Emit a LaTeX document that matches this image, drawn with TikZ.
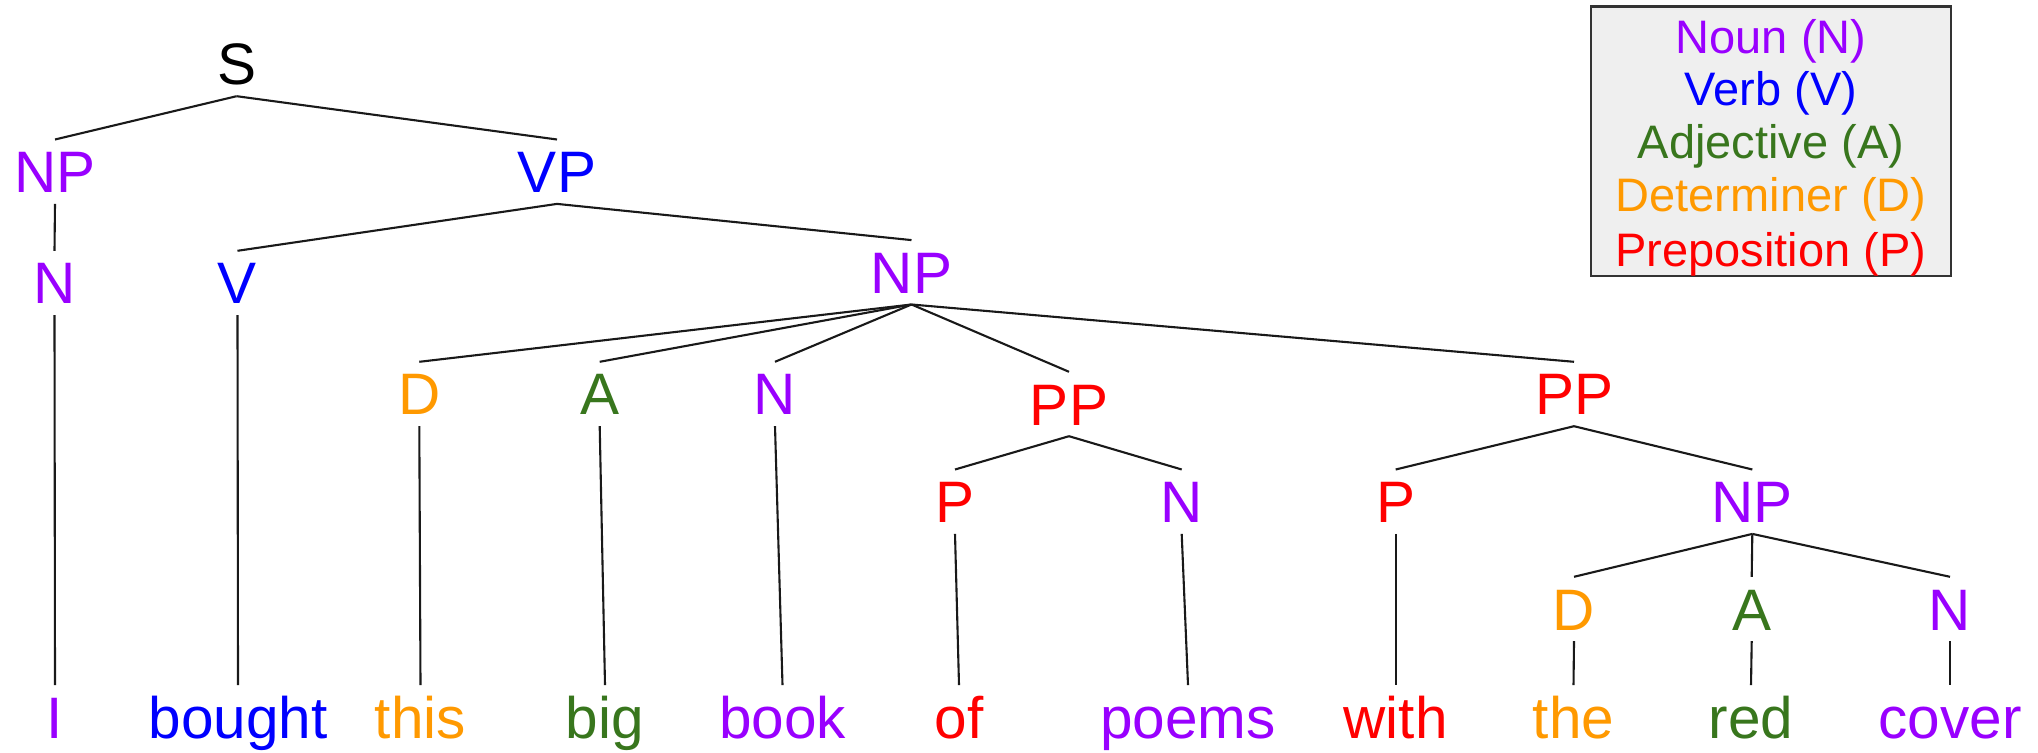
\documentclass[tikz,border=0pt]{standalone}
\usepackage{fontspec}
\setmainfont{Liberation Sans}
\definecolor{cN}{HTML}{9900FF}
\definecolor{cV}{HTML}{0000FF}
\definecolor{cA}{HTML}{38761D}
\definecolor{cD}{HTML}{FF9900}
\definecolor{cP}{HTML}{FF0000}
\definecolor{legfill}{HTML}{EFEFEF}
\definecolor{legdraw}{HTML}{333333}
\begin{document}
\begin{tikzpicture}[x=0.5pt,y=-0.5pt,
  lab/.style={anchor=base, inner xsep=0pt, inner ysep=5.4pt, text height=21pt, text depth=0pt,
              font=\fontsize{29.25}{35}\selectfont},
  edge/.style={draw=black!90, line width=1.05pt},
  legbox/.style={draw=legdraw, fill=legfill, line width=1.3pt, inner sep=0pt,
                 minimum width=180pt, minimum height=134.6pt},
  leg/.style={anchor=base, inner sep=0pt, font=\fontsize{23.5}{28}\selectfont}]
\useasboundingbox (0,0) rectangle (2038,753);

% legend
\node[legbox] (legend) at (1771,141.4) {};
\node[leg, text=cN] (lN) at (1771,53.3) {Noun (N)};
\node[leg, text=cV] (lV) at (1771,105.5) {Verb (V)};
\node[leg, text=cA] (lA) at (1771,158.5) {Adjective (A)};
\node[leg, text=cD] (lD) at (1771,211.8) {Determiner (D)};
\node[leg, text=cP] (lP) at (1771,266.5) {Preposition (P)};

% internal nodes
\node[lab] (S) at (236.6,85) {S};
\node[lab, text=cN] (NPa) at (55,192.7) {NP};
\node[lab, text=cV] (VP) at (557,192.7) {VP};
\node[lab, text=cN] (Na) at (54.5,304) {N};
\node[lab, text=cV] (V) at (237.5,304) {V};
\node[lab, text=cN] (NPb) at (911.5,293.3) {NP};
\node[lab, text=cD] (Da) at (419.3,415) {D};
\node[lab, text=cA] (Aa) at (599.7,415) {A};
\node[lab, text=cN] (Nb) at (775,415) {N};
\node[lab, text=cP] (PPa) at (1069,425) {PP};
\node[lab, text=cP] (PPb) at (1574,415) {PP};
\node[lab, text=cP] (Pa) at (955,522.7) {P};
\node[lab, text=cN] (Nc) at (1181.7,522.7) {N};
\node[lab, text=cP] (Pb) at (1395.7,522.7) {P};
\node[lab, text=cN] (NPc) at (1752.3,522.7) {NP};
\node[lab, text=cD] (Db) at (1574,630) {D};
\node[lab, text=cA] (Ab) at (1751.7,630) {A};
\node[lab, text=cN] (Nd) at (1950,630) {N};

% words
\node[lab, text=cN] (wI) at (55,738.3) {I};
\node[lab, text=cV] (wbought) at (238,738.3) {bought};
\node[lab, text=cD] (wthis) at (420.5,738.3) {this};
\node[lab, text=cA] (wbig) at (605,738.3) {big};
\node[lab, text=cN] (wbook) at (782.5,738.3) {book};
\node[lab, text=cP] (wof) at (959,738.3) {of};
\node[lab, text=cN] (wpoems) at (1188,738.3) {poems};
\node[lab, text=cP] (wwith) at (1395.7,738.3) {with};
\node[lab, text=cD] (wthe) at (1573.5,738.3) {the};
\node[lab, text=cA] (wred) at (1751,738.3) {red};
\node[lab, text=cN] (wcover) at (1950,738.3) {cover};

% connectors
\draw[edge] (S.south) -- (NPa.north);
\draw[edge] (S.south) -- (VP.north);
\draw[edge] (NPa.south) -- (Na.north);
\draw[edge] (VP.south) -- (V.north);
\draw[edge] (VP.south) -- (NPb.north);
\draw[edge] (Na.south) -- (wI.north);
\draw[edge] (V.south) -- (wbought.north);
\draw[edge] (NPb.south) -- (Da.north);
\draw[edge] (NPb.south) -- (Aa.north);
\draw[edge] (NPb.south) -- (Nb.north);
\draw[edge] (NPb.south) -- (PPa.north);
\draw[edge] (NPb.south) -- (PPb.north);
\draw[edge] (Da.south) -- (wthis.north);
\draw[edge] (Aa.south) -- (wbig.north);
\draw[edge] (Nb.south) -- (wbook.north);
\draw[edge] (PPa.south) -- (Pa.north);
\draw[edge] (PPa.south) -- (Nc.north);
\draw[edge] (Pa.south) -- (wof.north);
\draw[edge] (Nc.south) -- (wpoems.north);
\draw[edge] (PPb.south) -- (Pb.north);
\draw[edge] (PPb.south) -- (NPc.north);
\draw[edge] (Pb.south) -- (wwith.north);
\draw[edge] (NPc.south) -- (Db.north);
\draw[edge] (NPc.south) -- (Ab.north);
\draw[edge] (NPc.south) -- (Nd.north);
\draw[edge] (Db.south) -- (wthe.north);
\draw[edge] (Ab.south) -- (wred.north);
\draw[edge] (Nd.south) -- (wcover.north);
\end{tikzpicture}
\end{document}
